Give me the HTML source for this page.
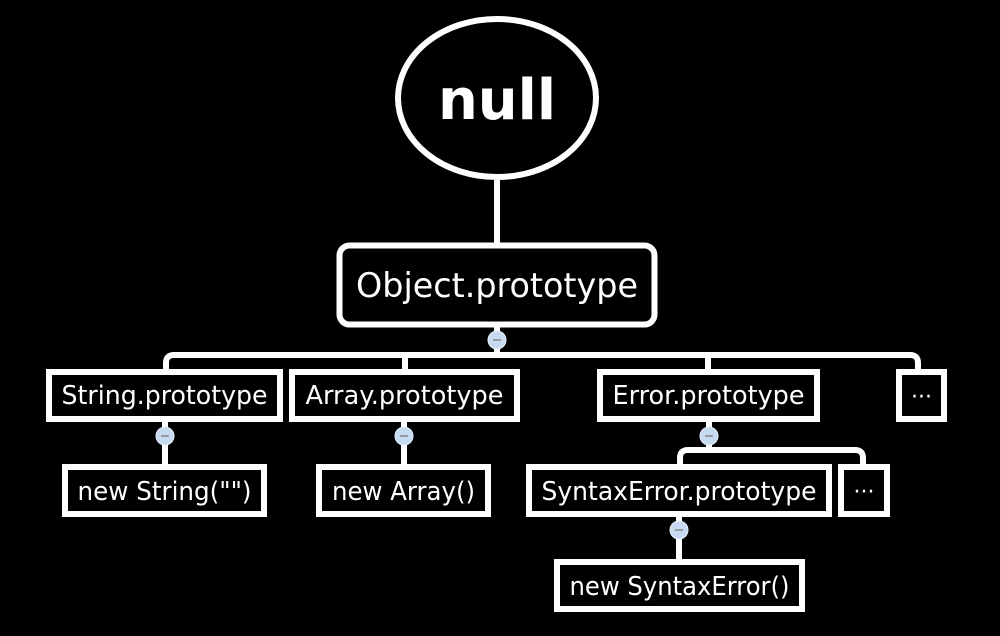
<!DOCTYPE html>
<html><head><meta charset="utf-8"><style>
html,body{margin:0;padding:0;background:#000;}
svg{display:block}
text{font-family:"DejaVu Sans","Liberation Sans",sans-serif;fill:#fff;}
</style></head><body>
<svg width="1000" height="636" viewBox="0 0 1000 636" xmlns="http://www.w3.org/2000/svg">
<g fill="none" stroke="#fff" stroke-width="6">
<line x1="497" y1="180" x2="497" y2="244"/>
<line x1="497" y1="326" x2="497" y2="355"/>
<path d="M166 369 V363 Q166 355 174 355 H910 Q918 355 918 363 V369"/>
<line x1="405" y1="355" x2="405" y2="369"/>
<line x1="708" y1="355" x2="708" y2="369"/>
<line x1="165" y1="422" x2="165" y2="464"/>
<line x1="404" y1="422" x2="404" y2="464"/>
<line x1="709" y1="422" x2="709" y2="450"/>
<path d="M680 464 V458 Q680 450 688 450 H855 Q863 450 863 458 V464"/>
<line x1="679" y1="517" x2="679" y2="559"/>
</g>
<ellipse cx="497" cy="98" rx="99" ry="79" fill="#000" stroke="#fff" stroke-width="6"/>
<text x="497" y="119" font-size="56" font-weight="bold" text-anchor="middle">null</text>
<rect x="339.5" y="245.5" width="315" height="79" rx="10" fill="#000" stroke="#fff" stroke-width="6"/>
<text x="497" y="297" font-size="34" text-anchor="middle" textLength="282" lengthAdjust="spacingAndGlyphs">Object.prototype</text>
<g fill="#000" stroke="#fff" stroke-width="6">
<rect x="49" y="372" width="231" height="47"/>
<rect x="292" y="372" width="225" height="47"/>
<rect x="600" y="372" width="217" height="47"/>
<rect x="899" y="372" width="45" height="47"/>
<rect x="65" y="467" width="199" height="47"/>
<rect x="319" y="467" width="169" height="47"/>
<rect x="529" y="467" width="300" height="47"/>
<rect x="841" y="467" width="46" height="47"/>
<rect x="557" y="562" width="245" height="47"/>
</g>
<g font-size="26" text-anchor="middle">
<text x="164.5" y="404" textLength="206" lengthAdjust="spacingAndGlyphs">String.prototype</text>
<text x="404.5" y="404" textLength="198" lengthAdjust="spacingAndGlyphs">Array.prototype</text>
<text x="708.5" y="404" textLength="192" lengthAdjust="spacingAndGlyphs">Error.prototype</text>
<text x="921.5" y="404" font-size="22">···</text>
<text x="164.5" y="500" textLength="174" lengthAdjust="spacingAndGlyphs">new String("")</text>
<text x="403.5" y="500" textLength="143" lengthAdjust="spacingAndGlyphs">new Array()</text>
<text x="679" y="500" textLength="275" lengthAdjust="spacingAndGlyphs">SyntaxError.prototype</text>
<text x="864" y="499" font-size="22">···</text>
<text x="679.5" y="595" textLength="220" lengthAdjust="spacingAndGlyphs">new SyntaxError()</text>
</g>
<g fill="#c8d9f2" stroke="#e8f0fb" stroke-width="1">
<circle cx="497" cy="340" r="9"/>
<circle cx="165" cy="436" r="9"/>
<circle cx="404" cy="436" r="9"/>
<circle cx="709" cy="436" r="9"/>
<circle cx="679" cy="530" r="9"/>
</g>
<g stroke="#888" stroke-width="1.5">
<line x1="493" y1="340" x2="501" y2="340"/>
<line x1="161" y1="436" x2="169" y2="436"/>
<line x1="400" y1="436" x2="408" y2="436"/>
<line x1="705" y1="436" x2="713" y2="436"/>
<line x1="675" y1="530" x2="683" y2="530"/>
</g>
</svg>
</body></html>
